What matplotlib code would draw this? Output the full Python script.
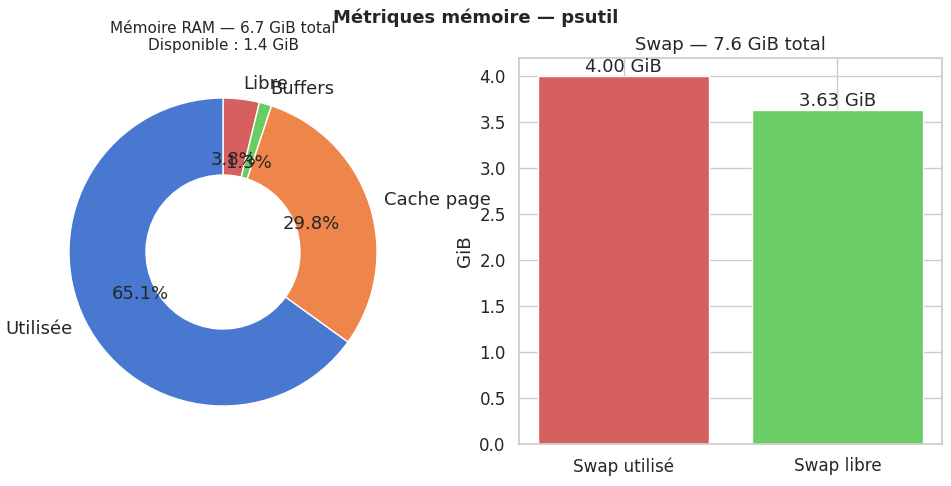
import matplotlib
matplotlib.use("Agg")
import matplotlib.pyplot as plt
import seaborn as sns

sns.set_theme(style="whitegrid", palette="muted", font_scale=1.1)

ram_labels = ["Libre", "Buffers", "Cache page", "Utilisée"]
ram_values = [0.255, 0.087, 2.0, 4.36]
ram_colors = ["#d65f5f", "#6acc64", "#ee854a", "#4878d0"]

swap_labels = ["Swap utilisé", "Swap libre"]
swap_values = [4.00, 3.63]
swap_colors = ["#d65f5f", "#6acc64"]

W, H = 951, 486
fig = plt.figure(figsize=(W / 100, H / 100), dpi=100)
fig.suptitle("Métriques mémoire — psutil", fontweight="bold", fontsize=13, y=1 - 18 / H, va="center")

r = 154
ax1 = fig.add_axes([(223 - r) / W, (H - 252 - r) / H, 2 * r / W, 2 * r / H])
ax1.pie(ram_values, labels=ram_labels, colors=ram_colors, autopct="%1.1f%%",
        startangle=90, counterclock=False, pctdistance=0.6,
        wedgeprops=dict(width=0.5, edgecolor="white"), textprops=dict(fontsize=13))
ax1.set_xlim(-1, 1)
ax1.set_ylim(-1, 1)
fig.text(223 / W, 1 - 37 / H, "Mémoire RAM — 6.7 GiB total\nDisponible : 1.4 GiB",
         ha="center", va="center", fontsize=11)

ax2 = fig.add_axes([519 / W, 42 / H, 423 / W, 386 / H])
bars = ax2.bar(swap_labels, swap_values, color=swap_colors)
ax2.bar_label(bars, labels=[f"{v:.2f} GiB" for v in swap_values], fontsize=13)
ax2.set_title("Swap — 7.6 GiB total", fontsize=13)
ax2.set_ylabel("GiB")

fig.savefig("out.png", dpi=100)
